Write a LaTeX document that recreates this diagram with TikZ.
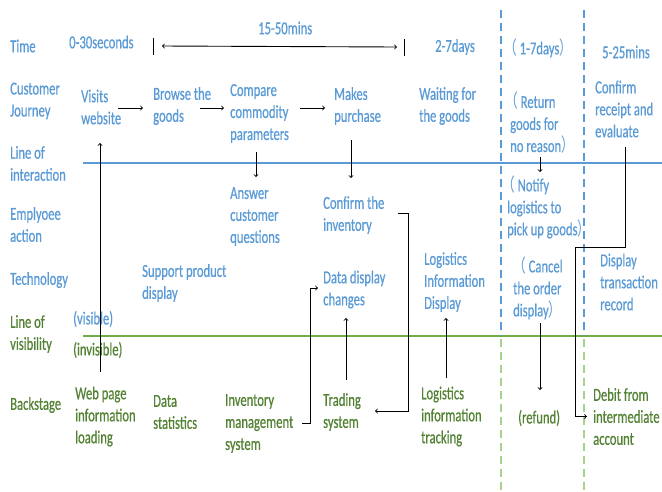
\documentclass[tikz,border=0pt]{standalone}
\usepackage{fontspec}
\setmainfont{Carlito}[FakeStretch=0.69,FakeBold=0.6]
\newfontfamily\cjkfnt{Noto Sans CJK SC}[FakeStretch=0.69]
\newcommand{\lpar}{{\cjkfnt （}}
\newcommand{\rpar}{{\cjkfnt ）}}
\usetikzlibrary{calc}
\definecolor{tblue}{HTML}{5B9BD5}
\definecolor{tgreen}{HTML}{548235}
\definecolor{lgreen}{HTML}{70AD47}
\definecolor{dgreen}{HTML}{A9D18E}
\tikzset{
  base/.style={anchor=west, inner sep=0pt, align=left, font=\fontsize{18.3}{22}\selectfont},
  bt/.style={base, text=tblue},
  gt/.style={base, text=tgreen},
  arr/.style={draw=black, line width=0.9pt, ->},
  tickln/.style={draw=black, line width=0.9pt},
}
\begin{document}
\begin{tikzpicture}[x=1pt,y=-1pt]
\useasboundingbox (0,0) rectangle (662,491);
% lines
\draw[tblue, line width=1.6pt] (83,163) -- (662,163);
\draw[lgreen, line width=2.2pt] (83,336) -- (662,336);
\draw[tblue, line width=1.3pt, dash pattern=on 8pt off 5pt] (501,10) -- (501,336);
\draw[tblue, line width=1.3pt, dash pattern=on 8pt off 5pt] (584,10) -- (584,336);
\draw[dgreen, line width=1.3pt, dash pattern=on 8pt off 5pt] (501,339) -- (501,491);
\draw[dgreen, line width=1.3pt, dash pattern=on 8pt off 5pt] (584,339) -- (584,491);
% left labels
\node[bt] (time) at (10,46) {Time};
\node[bt] (cj) at (10,101) {Customer\\Journey};
\node[bt] (loi) at (10,163.5) {Line of\\interaction};
\node[bt] (ea) at (10,224.5) {Emplyoee\\action};
\node[bt] (tech) at (10,280) {Technology};
\node[gt] (lov) at (10,334) {Line of\\visibility};
\node[gt] (back) at (10,405) {Backstage};
% time row
\node[bt] (t030) at (69,42) {0-30seconds};
\node[bt] (t1550) at (258,28) {15-50mins};
\node[bt] (t27) at (435,47) {2-7days};
\node[bt] (t17) at (504,48) {\lpar\ 1-7days\rpar};
\node[bt] (t525) at (602,52) {5-25mins};
\coordinate (tk1) at (153,46);
\coordinate (tk2) at (404,47);
\draw[tickln] ($(tk1)+(0,-8)$) -- ($(tk1)+(0,9)$);
\draw[tickln] ($(tk2)+(0,-8)$) -- ($(tk2)+(0,9)$);
\draw[arr, <->] ($(tk1)+(9,0)$) -- ($(tk2)+(-7,0)$);
% customer journey
\node[bt] (visits) at (81,107) {Visits\\website};
\node[bt] (browse) at (153,106) {Browse the\\goods};
\node[bt] (compare) at (230,113.5) {Compare\\commodity\\parameters};
\node[bt] (makes) at (334,106) {Makes\\purchase};
\node[bt] (waiting) at (419,106) {Waiting for\\the goods};
\node[bt] (return) at (510,123) {\hspace*{-5pt}\lpar\ Return\\goods for\\no reason\rpar};
\node[bt] (confirmr) at (595,109) {Confirm\\receipt and\\evaluate};
% employee action
\node[bt] (answer) at (230,216.5) {Answer\\customer\\questions};
\node[bt] (confinv) at (323,215) {Confirm the\\inventory};
\node[bt] (notify) at (507,207) {\hspace*{-5pt}\lpar\ Notify\\logistics to\\pick up goods\rpar};
% technology
\node[bt] (support) at (142,283) {Support product\\display};
\node[bt] (datadisp) at (323,289.5) {Data display\\changes};
\node[bt] (logdisp) at (424,282) {Logistics\\Information\\Display};
\node[bt] (cancel) at (513,288) {\lpar\ Cancel\\the order\\display\rpar};
\node[bt] (disptrans) at (600,282) {Display\\transaction\\record};
% visibility
\node[bt] (visible) at (73,319) {(visible)};
\node[gt] (invisible) at (73,350) {(invisible)};
% backstage
\node[gt] (web) at (75,416.5) {Web page\\information\\loading};
\node[gt] (datastat) at (153,412) {Data\\statistics};
\node[gt] (inv) at (225,423.5) {Inventory\\management\\system};
\node[gt] (trading) at (323,412) {Trading\\system};
\node[gt] (logtrack) at (421,416.5) {Logistics\\information\\tracking};
\node[gt] (refund) at (518,418) {(refund)};
\node[gt] (debit) at (593,416.5) {Debit from\\intermediate\\account};
% connectors
\draw[arr] ($(visits.west)+(37,1)$) -- ($(browse.west)+(-10,2)$);
\draw[arr] ($(browse.west)+(47,2)$) -- ($(compare.west)+(-6,-5.5)$);
\draw[arr] ($(compare.west)+(70,-5.5)$) -- ($(makes.west)+(-9,2)$);
\draw[arr] ($(compare.west)+(26,38.5)$) -- ($(answer.west)+(26,-39.5)$);
\draw[arr] ($(makes.west)+(17,34)$) -- ($(confinv.west)+(28,-37)$);
\draw[arr] ($(return.west)+(30,34)$) -- ($(notify.west)+(33,-35)$);
\draw[arr] ($(confirmr.west)+(30,38)$) -- ++(0,100) -| ($(debit.west)+(-18,0)$) -- ($(debit.west)+(-6,0)$);
\draw[arr] ($(confinv.west)+(75,-2)$) -- ++(10,0) |- ($(trading.west)+(52,-1)$);
\draw[arr] ($(inv.west)+(77,0)$) -- ++(8,0) |- ($(datadisp.west)+(-5,-1.5)$);
\draw[arr] ($(trading.west)+(23,-32)$) -- ($(datadisp.west)+(23,28.5)$);
\draw[arr] ($(logtrack.west)+(25,-38.5)$) -- ($(logdisp.west)+(22,36)$);
\draw[arr] ($(cancel.west)+(27,35)$) -- ($(refund.west)+(22,-28)$);
\draw[arr] ($(web.west)+(25,-44.5)$) -- ($(visits.west)+(19,36)$);
\end{tikzpicture}
\end{document}
